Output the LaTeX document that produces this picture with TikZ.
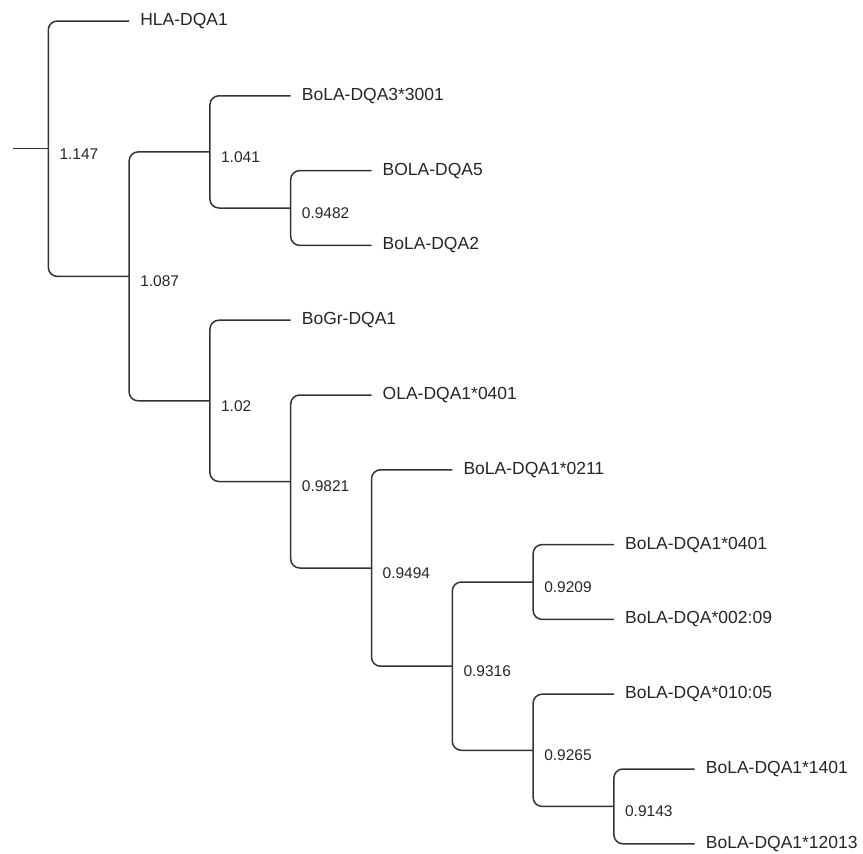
\documentclass[tikz,border=0pt]{standalone}
\usepackage{fontspec}
\setmainfont{Liberation Sans}
\usepackage{tikz}

\begin{document}
\begin{tikzpicture}[x=1pt, y=-1pt, every node/.append style={anchor=west, text=black!85},
        leaf/.style={inner xsep=11pt, inner ysep=0pt, font=\fontsize{17.5}{20}\selectfont},
        supp/.style={inner sep=0pt, xshift=11pt, yshift=-5pt, font=\fontsize{15.5}{18}\selectfont},
        branch/.style={draw=black!80, line width=1.5pt, rounded corners=9pt}]
        \useasboundingbox (0,0) rectangle (863,854);

        \coordinate (R) at (12.7,148.7);
        \coordinate (N1147) at (48.3,148.7);
        \coordinate (N1087) at (129.1,276.4);
        \coordinate (N1041) at (209.9,151.9);
        \coordinate (N9482) at (290.7,208);
        \coordinate (N102) at (209.9,400.85);
        \coordinate (N9821) at (290.7,481.5);
        \coordinate (N9494) at (371.5,568);
        \coordinate (N9316) at (452.3,666.2);
        \coordinate (N9209) at (533.1,582);
        \coordinate (N9265) at (533.1,750.3);
        \coordinate (N9143) at (613.9,806.4);

        \node [leaf] (HLA) at (129.1,21) {HLA-DQA1};
        \node [leaf] (DQA3) at (290.7,95.8) {BoLA-DQA3*3001};
        \node [leaf] (DQA5) at (371.5,170.6) {BOLA-DQA5};
        \node [leaf] (DQA2) at (371.5,245.4) {BoLA-DQA2};
        \node [leaf] (BoGr) at (290.7,320.2) {BoGr-DQA1};
        \node [leaf] (OLA) at (371.5,395) {OLA-DQA1*0401};
        \node [leaf] (Q0211) at (452.3,469.8) {BoLA-DQA1*0211};
        \node [leaf] (Q0401) at (613.9,544.6) {BoLA-DQA1*0401};
        \node [leaf] (Q00209) at (613.9,619.4) {BoLA-DQA*002:09};
        \node [leaf] (Q01005) at (613.9,694.2) {BoLA-DQA*010:05};
        \node [leaf] (Q1401) at (694.7,769) {BoLA-DQA1*1401};
        \node [leaf] (Q12013) at (694.7,843.8) {BoLA-DQA1*12013};

        \node [supp] (S1147) at (N1147) {1.147};
        \node [supp] (S1087) at (N1087) {1.087};
        \node [supp] (S1041) at (N1041) {1.041};
        \node [supp] (S9482) at (N9482) {0.9482};
        \node [supp] (S102) at (N102) {1.02};
        \node [supp] (S9821) at (N9821) {0.9821};
        \node [supp] (S9494) at (N9494) {0.9494};
        \node [supp] (S9316) at (N9316) {0.9316};
        \node [supp] (S9209) at (N9209) {0.9209};
        \node [supp] (S9265) at (N9265) {0.9265};
        \node [supp] (S9143) at (N9143) {0.9143};

        \draw [branch] (R) -- (N1147);
        \draw [branch] (N1147) |- (HLA.west);
        \draw [branch] (N1147) |- (N1087);
        \draw [branch] (N1087) |- (N1041);
        \draw [branch] (N1087) |- (N102);
        \draw [branch] (N1041) |- (DQA3.west);
        \draw [branch] (N1041) |- (N9482);
        \draw [branch] (N9482) |- (DQA5.west);
        \draw [branch] (N9482) |- (DQA2.west);
        \draw [branch] (N102) |- (BoGr.west);
        \draw [branch] (N102) |- (N9821);
        \draw [branch] (N9821) |- (OLA.west);
        \draw [branch] (N9821) |- (N9494);
        \draw [branch] (N9494) |- (Q0211.west);
        \draw [branch] (N9494) |- (N9316);
        \draw [branch] (N9316) |- (N9209);
        \draw [branch] (N9316) |- (N9265);
        \draw [branch] (N9209) |- (Q0401.west);
        \draw [branch] (N9209) |- (Q00209.west);
        \draw [branch] (N9265) |- (Q01005.west);
        \draw [branch] (N9265) |- (N9143);
        \draw [branch] (N9143) |- (Q1401.west);
        \draw [branch] (N9143) |- (Q12013.west);
    \end{tikzpicture}
\end{document}
